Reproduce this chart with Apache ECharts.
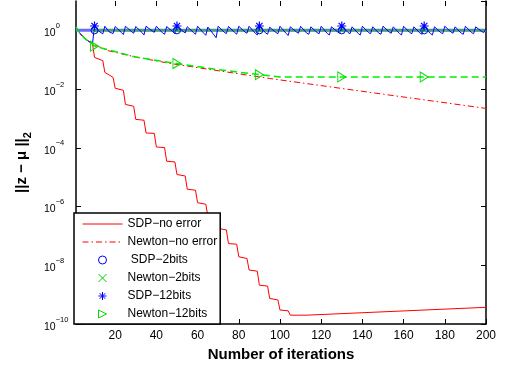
<!DOCTYPE html>
<html><head><meta charset="utf-8">
<script src="https://cdn.jsdelivr.net/npm/echarts@6/dist/echarts.min.js"></script>
<style>html,body{margin:0;padding:0;background:#fff}#c{width:505px;height:367px}</style>
</head><body><div id="c"></div>
<script>
// ---- data ----
const xTicks = [20, 40, 60, 80, 100, 120, 140, 160, 180, 200];
const xMin = 1, xMax = 200;
const yMin = 1e-10, yMax = 10;

// SDP - no error (red solid) : [iteration, ||z - mu||_2]
const sdpNoError = [
  [1,1.3],[3,0.78],[5,0.55],[7,0.43],[9,0.35],[10,0.12],[14,0.093],[15,0.037],[19,0.025],
  [20,1.07e-2],[24,9.1e-3],[25,3.0e-3],[29,2.6e-3],[30,9.3e-4],[34,8.7e-4],[35,3.2e-4],[39,3.1e-4],
  [40,1.07e-4],[44,1.02e-4],[45,3.5e-5],[49,3.3e-5],[50,1.23e-5],[54,1.1e-5],[55,3.9e-6],[59,3.6e-6],
  [60,1.35e-6],[64,1.2e-6],[65,4.7e-7],[69,4.1e-7],[70,1.8e-7],[74,1.6e-7],[75,5.5e-8],[79,5.2e-8],
  [80,1.95e-8],[84,1.7e-8],[85,6.9e-9],[89,6.3e-9],[90,2.1e-9],[94,1.95e-9],[95,7.4e-10],[99,6.6e-10],
  [100,3.0e-10],[104,2.8e-10],[105,2.0e-10],[113,2.0e-10],[200,3.7e-10]
];
// Newton - no error (red dash-dot)
const newtonNoError = [
  [1,1.3],[3,0.78],[5,0.55],[7,0.43],[9,0.35],[10,0.32],[17,0.2],[30,0.123],[47,0.074],
  [95,0.023],[130,0.0105],[170,4.3e-3],[200,2.2e-3]
];
// SDP - 2 bits line and Newton - 2 bits line (flat at 1)
const sdp2bitsLine = [[1,1],[200,1]];
const newton2bitsLine = [[10,1],[200,1]];
// SDP - 12 bits line (blue zigzag)
const sdp12bitsLine = [
  [1,1.3],[3,0.78],[5,0.55],[7,0.43],[9,0.35],[10,1.41],
  [12,0.95],[14,0.76],[15,1.38],[17,0.9],[19,0.78],[20,1.35],[23,0.85],[24,0.72],[25,1.38],[28,0.9],[29,0.8],
  [30,1.35],[33,0.85],[34,0.7],[35,1.38],[38,0.95],[39,0.86],[40,1.38],[43,0.82],[44,0.74],[45,1.35],[48,0.9],
  [49,0.78],[50,1.41],[53,0.92],[54,0.82],[55,1.32],[58,0.85],[59,0.74],[60,1.38],[63,0.8],[64,0.68],[65,1.3],
  [68,0.7],[69,0.56],[70,1.38],[73,0.85],[74,0.78],[75,1.35],[78,0.85],[79,0.74],[80,1.38],[83,0.88],[84,0.8],
  [85,1.38],[88,0.8],[89,0.7],[90,1.41],[93,0.82],[94,0.74],[95,1.28],[98,0.85],[99,0.77],[100,1.38],
  [103,0.78],[104,0.67],[105,1.32],[108,0.88],[109,0.8],[110,1.38],[113,0.8],[114,0.74],[115,1.32],
  [118,0.84],[119,0.77],[120,1.38],[123,0.78],[124,0.7],[125,1.32],[128,0.88],[129,0.8],[130,1.41],
  [133,0.85],[134,0.77],[135,1.32],[138,0.78],[139,0.7],[140,1.38],[143,0.84],[144,0.77],[145,1.32],
  [148,0.8],[149,0.74],[150,1.38],[153,0.88],[154,0.8],[155,1.32],[158,0.78],[159,0.7],[160,1.38],
  [163,0.84],[164,0.77],[165,1.32],[168,0.8],[169,0.74],[170,1.41],[173,0.78],[174,0.7],[175,1.32],
  [178,0.84],[179,0.77],[180,1.38],[183,0.88],[184,0.8],[185,1.32],[188,0.8],[189,0.74],[190,1.38],
  [193,0.84],[194,0.77],[195,1.32],[198,0.9],[199,0.85],[200,1.15]
];
// Newton - 12 bits line (green dashed)
const newton12bitsLine = [
  [1,1.3],[3,0.78],[5,0.55],[7,0.43],[9,0.35],[10,0.29],[30,0.123],[50,0.074],[70,0.046],
  [90,0.031],[100,0.026],[200,0.026]
];
// marker positions
const markerIters = [10, 50, 90, 130, 170];
const sdp2bitsMarkers = [1, 1, 1, 1, 1];
const newton2bitsMarkers = [1, 1, 1, 1, 1];
const sdp12bitsMarkers = [1.41, 1.41, 1.41, 1.41, 1.41];
const newton12bitsMarkers = [0.29, 0.074, 0.031, 0.026, 0.026];

// ---- chart ----
const FONT = 'Liberation Sans, Arial, Helvetica, sans-serif';
const RED = '#ff0000', BLUE = '#0000ff', GREEN = '#00ee00';
const pair = (xs, ys) => xs.map((x, i) => [x, ys[i]]);
const sup = v => { const e = Math.round(Math.log10(v)); return '{b|10}{e|' + (e < 0 ? '\u2212' + (-e) : String(e)) + '}'; };

const xBase = {
  type: 'value', min: xMin, max: xMax,
  axisLine: { show: true, lineStyle: { color: '#000', width: 1.5 } },
  axisTick: { show: true, inside: true, length: 5, customValues: xTicks, lineStyle: { color: '#000', width: 1 } },
  splitLine: { show: false }
};
const yBase = {
  type: 'log', logBase: 100, min: yMin, max: yMax,
  axisLine: { show: true, lineStyle: { color: '#000', width: 1.5 } },
  axisTick: { show: true, inside: true, length: 5, lineStyle: { color: '#000', width: 1 } },
  minorTick: { show: false }, splitLine: { show: false }
};

const option = {
  animation: false,
  backgroundColor: '#fff',
  grid: { left: 76, right: 19, top: 1, bottom: 43, containLabel: false },
  xAxis: [
    Object.assign({}, xBase, {
      position: 'bottom',
      axisLabel: { customValues: xTicks, color: '#000', fontSize: 12, fontFamily: FONT, margin: 6 },
      name: 'Number of iterations', nameLocation: 'middle', nameGap: 22,
      nameTextStyle: { color: '#000', fontSize: 15, fontWeight: 'bold', fontFamily: FONT }
    }),
    Object.assign({}, xBase, { position: 'top', axisLabel: { show: false },
      axisLine: { show: false } })
  ],
  yAxis: [
    Object.assign({}, yBase, {
      position: 'left',
      axisLabel: {
        formatter: sup, showMaxLabel: false, align: 'left', margin: 32,
        rich: {
          b: { fontSize: 10.5, fontFamily: FONT, color: '#000', padding: [6, 0, 0, 0], verticalAlign: 'bottom' },
          e: { fontSize: 7.5, fontFamily: FONT, color: '#000', verticalAlign: 'top' }
        }
      },
      name: '{n|||z \u2212 \u03bc ||}{s|2}', nameLocation: 'middle', nameGap: 40, nameRotate: 90,
      nameTextStyle: {
        rich: {
          n: { fontSize: 15, fontWeight: 'bold', fontFamily: FONT, color: '#000', verticalAlign: 'top' },
          s: { fontSize: 11, fontWeight: 'bold', fontFamily: FONT, color: '#000', padding: [8, 0, 0, 0], verticalAlign: 'bottom' }
        }
      }
    }),
    Object.assign({}, yBase, { position: 'right', axisLabel: { show: false } })
  ],
  legend: {
    left: 74, top: 213, orient: 'vertical', selectedMode: false,
    itemWidth: 40, itemHeight: 10, itemGap: 6,
    padding: [5, 3, 4, 8],
    backgroundColor: '#fff', borderColor: '#000', borderWidth: 1.5,
    textStyle: { color: '#000', fontSize: 12, fontFamily: FONT },
    lineStyle: { width: 1 },
    data: [
      { name: 'SDP\u2212no error', itemStyle: { opacity: 0 } },
      { name: 'Newton\u2212no error', itemStyle: { opacity: 0 } },
      { name: ' SDP\u22122bits', itemStyle: { borderWidth: 1 }, lineStyle: { opacity: 0 } },
      { name: 'Newton\u22122bits', itemStyle: { borderWidth: 1 }, lineStyle: { opacity: 0 } },
      { name: 'SDP\u221212bits', itemStyle: { borderWidth: 1 }, lineStyle: { opacity: 0 } },
      { name: 'Newton\u221212bits', itemStyle: { borderWidth: 1 }, lineStyle: { opacity: 0 } }
    ]
  },
  series: [
    { name: 'sdp2line', type: 'line', data: sdp2bitsLine, symbol: 'none', silent: true,
      lineStyle: { color: '#6a6aff', width: 3 }, z: 2 },
    { name: 'newton2line', type: 'line', data: newton2bitsLine, symbol: 'none', silent: true,
      lineStyle: { color: '#3cb43c', width: 2 }, z: 2 },
    { name: 'SDP\u2212no error', type: 'line', data: sdpNoError, symbol: 'none',
      itemStyle: { color: RED }, lineStyle: { color: RED, width: 1 }, z: 3 },
    { name: 'Newton\u2212no error', type: 'line', data: newtonNoError, symbol: 'none',
      itemStyle: { color: RED }, lineStyle: { color: RED, width: 1, type: [6, 3, 1.5, 3] }, z: 3 },
    { name: 'sdp12line', type: 'line', data: sdp12bitsLine, symbol: 'none', silent: true,
      lineStyle: { color: BLUE, width: 1 }, z: 3 },
    { name: 'newton12line', type: 'line', data: newton12bitsLine, symbol: 'none', silent: true,
      lineStyle: { color: GREEN, width: 1.5, type: [7, 4] }, z: 3 },
    { name: ' SDP\u22122bits', type: 'line', data: pair(markerIters, sdp2bitsMarkers),
      symbol: 'circle', symbolSize: 7, showSymbol: true,
      itemStyle: { color: 'transparent', borderColor: BLUE, borderWidth: 1 },
      lineStyle: { opacity: 0, width: 0 }, z: 5 },
    { name: 'Newton\u22122bits', type: 'line', data: pair(markerIters, newton2bitsMarkers),
      symbol: 'path://M0,0L10,10M0,10L10,0', symbolSize: 5, showSymbol: true,
      itemStyle: { color: 'transparent', borderColor: '#00cc00', borderWidth: 1 },
      lineStyle: { opacity: 0, width: 0 }, z: 5 },
    { name: 'SDP\u221212bits', type: 'line', data: pair(markerIters, sdp12bitsMarkers),
      symbol: 'path://M5,0L5,10M0,5L10,5M1.5,1.5L8.5,8.5M1.5,8.5L8.5,1.5', symbolSize: 9, showSymbol: true,
      itemStyle: { color: 'transparent', borderColor: BLUE, borderWidth: 1.2 },
      lineStyle: { opacity: 0, width: 0 }, z: 5 },
    { name: 'Newton\u221212bits', type: 'line', data: pair(markerIters, newton12bitsMarkers),
      symbol: 'path://M0,0L10,5L0,10Z', symbolSize: [8, 10], showSymbol: true,
      itemStyle: { color: 'transparent', borderColor: '#00dd00', borderWidth: 1 },
      lineStyle: { opacity: 0, width: 0 }, z: 5 }
  ]
};
const chart = echarts.init(document.getElementById('c'), null, { renderer: 'canvas' });
chart.setOption(option);
</script></body></html>
